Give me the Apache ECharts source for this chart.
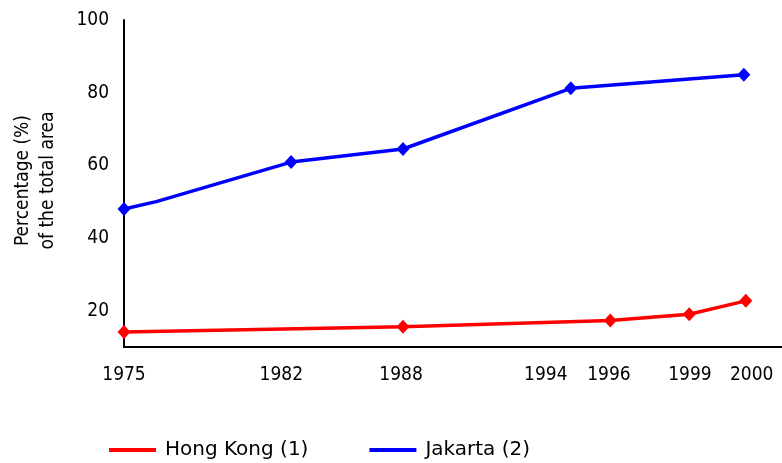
<!DOCTYPE html>
<html>
<head>
<meta charset="utf-8">
<script src="https://cdn.jsdelivr.net/npm/echarts@6/dist/echarts.min.js"></script>
<style>
html,body{margin:0;padding:0;background:#fff;}
#chart{width:782px;height:463px;}
</style>
</head>
<body>
<div id="chart"></div>
<script>
// Tick labels on the hand-drawn time axis and where they sit along it (axis units 0..100)
var yearLabels = ['1975', '1982', '1988', '1994', '1996', '1999', '2000'];
var yearLabelPos = [0, 23.9, 42.1, 64.1, 73.7, 86.0, 95.4];

// Hong Kong (1)
var hkPos = [0, 42.4, 73.9, 85.9, 94.5];
var hkValues = [14.1, 15.6, 17.3, 19.0, 22.7];

// Jakarta (2)  (second point is an unmarked bend in the line)
var jakPos = [0, 4.9, 25.4, 42.4, 67.9, 94.2];
var jakValues = [48.0, 50.0, 60.9, 64.5, 81.2, 84.9];
var jakMarked = [true, false, true, true, true, true];

var yTicks = [20, 40, 60, 80, 100];
var seriesNames = ['Hong Kong (1)', 'Jakarta (2)'];

var axisFont = 'DejaVu Sans Condensed, DejaVu Sans, sans-serif';

function pairs(pos, vals, marked) {
  return pos.map(function (p, i) {
    var d = { value: [p, vals[i]] };
    if (marked && !marked[i]) { d.symbol = 'none'; }
    return d;
  });
}

var chart = echarts.init(document.getElementById('chart'), null, { renderer: 'canvas' });
chart.setOption({
  animation: false,
  backgroundColor: '#ffffff',
  grid: { left: 124, right: 0, top: 20, height: 327 },
  xAxis: {
    type: 'value',
    min: 0,
    max: 100,
    splitLine: { show: false },
    axisTick: { show: false },
    axisLine: { show: true, lineStyle: { color: '#000', width: 2 } },
    axisLabel: {
      customValues: yearLabelPos,
      margin: 19,
      color: '#000',
      fontFamily: axisFont,
      fontSize: 19,
      formatter: function (v) {
        var best = 0, bd = Infinity;
        for (var i = 0; i < yearLabelPos.length; i++) {
          var d = Math.abs(yearLabelPos[i] - v);
          if (d < bd) { bd = d; best = i; }
        }
        return yearLabels[best];
      }
    }
  },
  yAxis: {
    type: 'value',
    min: 10,
    max: 100,
    interval: 10,
    splitLine: { show: false },
    axisTick: { show: false },
    axisLine: { show: true, lineStyle: { color: '#000', width: 2 } },
    axisLabel: {
      customValues: yTicks,
      margin: 15,
      color: '#000',
      fontFamily: axisFont,
      fontSize: 19
    },
    name: 'Percentage (%)\nof the total area',
    nameLocation: 'middle',
    nameRotate: 90,
    nameGap: 63,
    nameTextStyle: {
      color: '#000',
      fontFamily: axisFont,
      fontSize: 19,
      lineHeight: 25,
      align: 'center',
      padding: [0, 0, 0, 6]
    }
  },
  legend: {
    left: 109,
    top: 440,
    padding: 0,
    itemWidth: 47,
    itemHeight: 4,
    itemGap: 61,
    icon: 'rect',
    textStyle: {
      fontFamily: 'DejaVu Sans, sans-serif',
      fontSize: 20,
      color: '#000',
      padding: [0, 0, 0, 4]
    },
    data: seriesNames
  },
  series: [
    {
      name: seriesNames[0],
      type: 'line',
      data: pairs(hkPos, hkValues),
      symbol: 'diamond',
      symbolSize: [13, 14],
      showAllSymbol: true,
      lineStyle: { color: '#ff0000', width: 3.5 },
      itemStyle: { color: '#ff0000' },
      z: 3
    },
    {
      name: seriesNames[1],
      type: 'line',
      data: pairs(jakPos, jakValues, jakMarked),
      symbol: 'diamond',
      symbolSize: [13, 14],
      showAllSymbol: true,
      lineStyle: { color: '#0000ff', width: 3.5 },
      itemStyle: { color: '#0000ff' },
      z: 3
    }
  ]
});
</script>
</body>
</html>
